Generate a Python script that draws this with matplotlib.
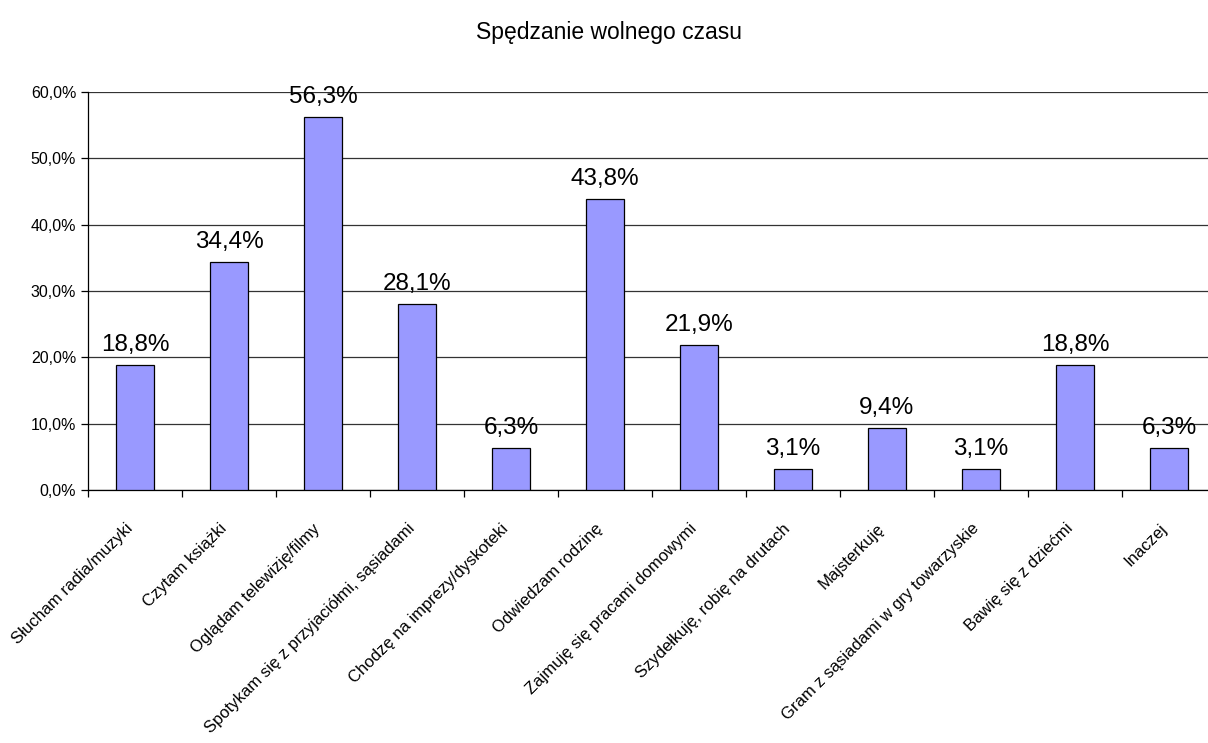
import numpy as np
import matplotlib.pyplot as plt
from matplotlib.ticker import FuncFormatter

plt.rcParams['font.family'] = ['Liberation Sans', 'DejaVu Sans']

# Dane
kategorie = [
    "Słucham radia/muzyki",
    "Czytam książki",
    "Oglądam telewizję/filmy",
    "Spotykam się z przyjaciółmi, sąsiadami",
    "Chodzę na imprezy/dyskoteki",
    "Odwiedzam rodzinę",
    "Zajmuję się pracami domowymi",
    "Szydełkuję, robię na drutach",
    "Majsterkuję",
    "Gram z sąsiadami w gry towarzyskie",
    "Bawię się z dziećmi",
    "Inaczej",
]
wartosci = [18.8, 34.4, 56.3, 28.1, 6.3, 43.8, 21.9, 3.1, 9.4, 3.1, 18.8, 6.3]
y_ticks = [0, 10, 20, 30, 40, 50, 60]

fig = plt.figure(figsize=(12.08, 7.43), dpi=100)
ax = fig.add_axes([88 / 1208, 1 - 490 / 743, 1128 / 1208, 398 / 743])

x = np.arange(len(kategorie))
bars = ax.bar(x, wartosci, width=0.404, color='#9999FF', edgecolor='black',
              linewidth=0.9, zorder=3)

for b, v in zip(bars, wartosci):
    ax.annotate(f"{v:.1f}%".replace('.', ','),
                (b.get_x() + b.get_width() / 2, b.get_height()),
                xytext=(0, 6.5), textcoords='offset points',
                ha='center', va='bottom', fontsize=17.5, zorder=4)

ax.set_xlim(-0.5, len(kategorie) - 0.5)
ax.set_ylim(0, 60)
ax.set_yticks(y_ticks)
ax.yaxis.set_major_formatter(FuncFormatter(lambda v, p: f"{v:.1f}%".replace('.', ',')))
ax.tick_params(axis='y', labelsize=11.5, length=5, width=0.9, direction='out')
ax.grid(axis='y', color='#333333', linewidth=0.9, zorder=0)

# znaczniki osi X miedzy kategoriami
ax.set_xticks(np.arange(-0.5, len(kategorie), 1.0))
ax.set_xticklabels([])
ax.tick_params(axis='x', length=5, width=0.9, direction='out')

for i, k in enumerate(kategorie):
    ax.annotate(k, (i, 0), xytext=(-3.5, -26), textcoords='offset points',
                rotation=45, ha='right', va='center', rotation_mode='anchor',
                fontsize=12)

for s in ['top', 'right']:
    ax.spines[s].set_visible(False)
ax.spines['left'].set_linewidth(0.9)
ax.spines['bottom'].set_linewidth(0.9)

fig.text(609 / 1208, 1 - 33 / 743, "Spędzanie wolnego czasu", ha='center',
         va='center', fontsize=16.5)

fig.savefig("out.png", dpi=100)
